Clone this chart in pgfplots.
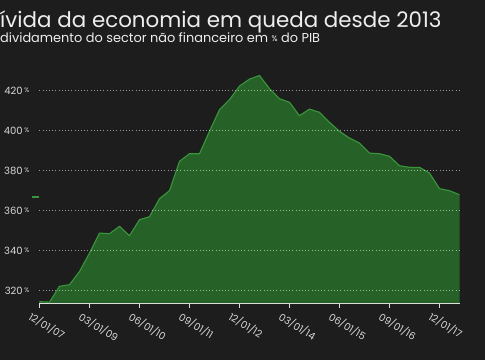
\documentclass[border=0pt]{standalone}
\usepackage{fontspec}
\setmainfont{Poppins}
\usepackage{pgfplots}
\pgfplotsset{compat=1.18}
\pgfdeclarelayer{background}
\pgfsetlayers{background,main}
\definecolor{bg}{RGB}{29,29,29}
\definecolor{areafill}{RGB}{38,98,40}
\definecolor{arealine}{RGB}{58,150,58}
\definecolor{txt}{RGB}{238,238,238}
\definecolor{ticktxt}{RGB}{215,215,215}
\begin{document}
\begin{tikzpicture}
\begin{axis}[
  scale only axis, width=420pt, height=233pt,
  xmin=0, xmax=42, ymin=313.5, ymax=430,
  clip=false,
  axis lines*=left,
  y axis line style={draw=none},
  x axis line style={draw=ticktxt!85, line width=0.8pt},
  xtick={0,5,...,40},
  xticklabels={12/01/07,03/01/09,06/01/10,09/01/11,12/01/12,03/01/14,06/01/15,09/01/16,12/01/17},
  ytick={320,340,...,420},
  yticklabel={\pgfmathprintnumber{\tick}\,{\fontsize{6.5}{7}\selectfont\raisebox{1.5pt}{\%}}},
  tick align=outside, major tick length=4pt,
  xtick style={draw=ticktxt!85, line width=0.8pt},
  ytick style={draw=none},
  ymajorgrids,
  grid style={draw=white, opacity=0.55, line width=0.9pt, dash pattern=on 1pt off 2.2pt},
  axis on top,
  tick label style={text=ticktxt, font=\fontsize{10}{11}\selectfont},
  /pgf/number format/assume math mode=true,
  xticklabel style={rotate=-31, anchor=north west, xshift=-7.5pt, yshift=-3pt},
  yticklabel style={anchor=east, inner sep=0pt, xshift=-6pt},
]
\coordinate (O) at (axis cs:0,313.5);
\addplot[draw=none, fill=areafill] coordinates {
(0,313.5) (0,314.5) (1,314.3) (2,322.2) (3,323) (4,329.6) (5,338.8) (6,348.8) (7,348.5) (8,352.2) (9,347.5)
(10,355.5) (11,357) (12,366) (13,370) (14,384.7) (15,388.5) (16,388.5) (17,399.7) (18,410.5) (19,415.5)
(20,422.3) (21,425.8) (22,427.6) (23,421) (24,416) (25,414.2) (26,407.5) (27,410.8) (28,409.2) (29,404.2)
(30,399.7) (31,396.3) (32,393.8) (33,388.8) (34,388.5) (35,387.2) (36,382.5) (37,381.7) (38,381.7) (39,378.8)
(40,371) (41,370) (42,368) (42,313.5)};
\addplot[draw=arealine, line width=1.1pt, line join=round] coordinates {
(0,314.5) (1,314.3) (2,322.2) (3,323) (4,329.6) (5,338.8) (6,348.8) (7,348.5) (8,352.2) (9,347.5)
(10,355.5) (11,357) (12,366) (13,370) (14,384.7) (15,388.5) (16,388.5) (17,399.7) (18,410.5) (19,415.5)
(20,422.3) (21,425.8) (22,427.6) (23,421) (24,416) (25,414.2) (26,407.5) (27,410.8) (28,409.2) (29,404.2)
(30,399.7) (31,396.3) (32,393.8) (33,388.8) (34,388.5) (35,387.2) (36,382.5) (37,381.7) (38,381.7) (39,378.8)
(40,371) (41,370) (42,368)};
\addplot[draw=arealine, line width=1.6pt] coordinates {(-0.75,367) (0,367)};
\end{axis}
\begin{scope}[shift={(O)}, xshift=-39.5pt, yshift=-56.3pt, x=1pt, y=1pt]
\begin{pgfonlayer}{background}
\fill[bg] (0,0) rectangle (485,360);
\end{pgfonlayer}
\node[anchor=base west, inner sep=0pt, text=txt, font=\fontsize{21.4}{24}\selectfont] at (0,333) {\llap{D}ívida da economia em queda desde 2013};
\node[anchor=base west, inner sep=0pt, text=txt, font=\fontsize{12.9}{14}\selectfont] at (0,317.5) {\llap{En}dividamento do sector não financeiro em {\fontsize{8}{9}\selectfont\raisebox{1.5pt}{\%}} do PIB};
\end{scope}
\pgfresetboundingbox
\begin{scope}[shift={(O)}, xshift=-39.5pt, yshift=-56.3pt, x=1pt, y=1pt]
\useasboundingbox (0,0) rectangle (485,360);
\end{scope}
\end{tikzpicture}
\end{document}
